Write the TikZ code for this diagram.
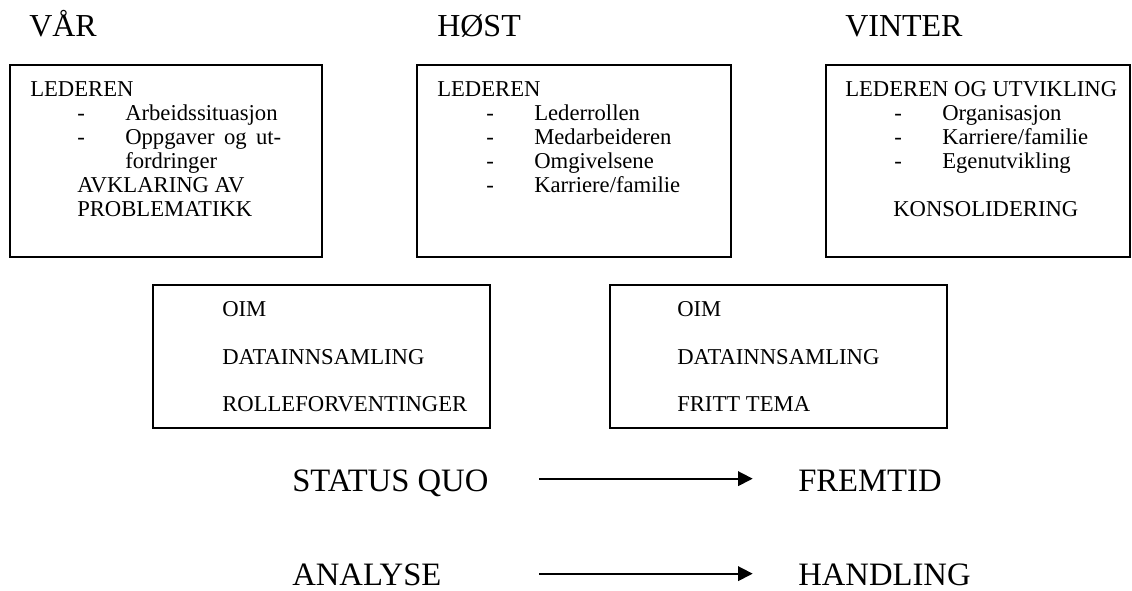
\documentclass[tikz,border=0pt]{standalone}
\usepackage{fontspec}
\setmainfont{Liberation Serif}
\usetikzlibrary{arrows.meta}

\tikzset{
  panel/.style={draw=black,line width=1.4pt},
  season/.style={anchor=base west,inner sep=0pt,font=\fontsize{24}{28}\selectfont},
  body/.style={anchor=base west,inner sep=0pt,font=\fontsize{17}{18}\selectfont},
  phase/.style={anchor=base west,inner sep=0pt,font=\fontsize{24.5}{28}\selectfont},
  flow/.style={line width=1.3pt,-{Triangle[length=11pt,width=11pt]}},
}
\newcommand\strek[1]{\makebox[36pt][l]{-}#1}

\begin{document}
\begin{tikzpicture}[x=0.75pt,y=-0.75pt]
\path[use as bounding box] (0,0) rectangle (1132,591);
% seasons
\node[season] (vaar) at (29,37) {VÅR};
\node[season] (host) at (437,37) {HØST};
\node[season] (vinter) at (845,37) {VINTER};
% upper row
\draw[panel] (10,65) rectangle (322,257);
\draw[panel] (417,65) rectangle (731,257);
\draw[panel] (826,65) rectangle (1130,257);
\node[body] (v1) at (30,97) {LEDEREN};
\node[body] (v2) at (77,121) {\strek{Arbeidssituasjon}};
\node[body] (v3) at (77,145) {\strek{\makebox[117pt][s]{Oppgaver og ut-}}};
\node[body] (v4) at (125,169) {fordringer};
\node[body] (v5) at (77,193) {AVKLARING AV};
\node[body] (v6) at (77,217) {PROBLEMATIKK};
\node[body] (h1) at (437,97) {LEDEREN};
\node[body] (h2) at (486,121) {\strek{Lederrollen}};
\node[body] (h3) at (486,145) {\strek{Medarbeideren}};
\node[body] (h4) at (486,169) {\strek{Omgivelsene}};
\node[body] (h5) at (486,193) {\strek{Karriere/familie}};
\node[body] (w1) at (845,97) {LEDEREN OG UTVIKLING};
\node[body] (w2) at (894,121) {\strek{Organisasjon}};
\node[body] (w3) at (894,145) {\strek{Karriere/familie}};
\node[body] (w4) at (894,169) {\strek{Egenutvikling}};
\node[body] (w5) at (893,217) {KONSOLIDERING};
% lower row
\draw[panel] (153,285) rectangle (490,428);
\draw[panel] (610,285) rectangle (947,428);
\node[body] (o1) at (222,317) {OIM};
\node[body] (o2) at (222,365) {DATAINNSAMLING};
\node[body] (o3) at (222,412) {ROLLEFORVENTINGER};
\node[body] (p1) at (677,317) {OIM};
\node[body] (p2) at (677,365) {DATAINNSAMLING};
\node[body] (p3) at (677,412) {FRITT TEMA};
% phases
\node[phase] (sq) at (292,492) {STATUS QUO};
\node[phase] (fr) at (798,492) {FREMTID};
\node[phase] (an) at (292,585) {ANALYSE};
\node[phase] (ha) at (798,585) {HANDLING};
\draw[flow,shorten <=38pt,shorten >=34pt] ([yshift=10pt]sq.base east) -- ([yshift=10pt]fr.base west);
\draw[flow,shorten <=73pt,shorten >=34pt] ([yshift=8.5pt]an.base east) -- ([yshift=8.5pt]ha.base west);
\end{tikzpicture}
\end{document}
